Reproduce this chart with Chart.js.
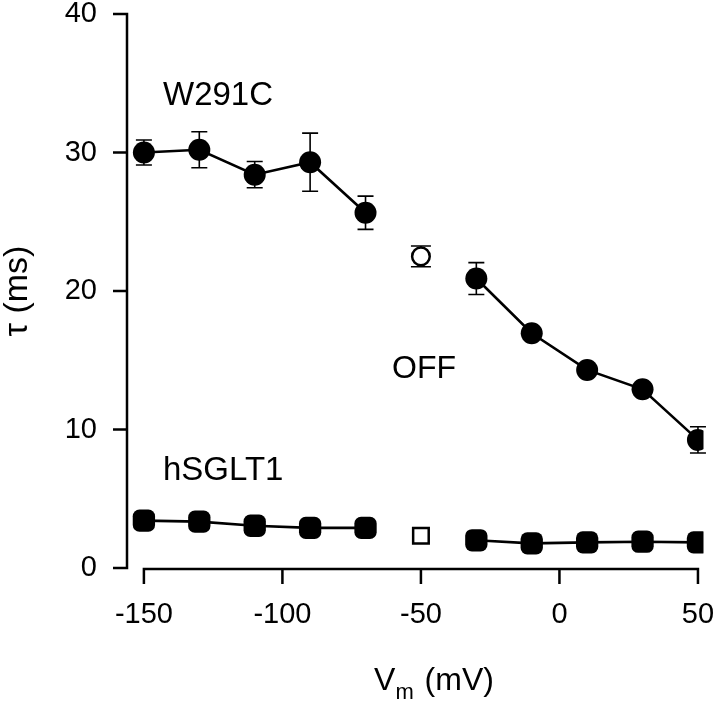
<!DOCTYPE html>
<html>
<head>
  <meta charset="UTF-8" />
  <title>tau vs Vm</title>
  <script src="https://cdn.jsdelivr.net/npm/chart.js"></script>
  <style>
    body {
      margin: 0;
      background-color: #fff;
    }
    #chartContainer {
      width: 717px;
      height: 701px;
    }
  </style>
</head>
<body>

  <div id="chartContainer">
    <canvas id="tauChart"></canvas>
  </div>

  <script>
    // voltages (mV)
    const voltages = [-150, -130, -110, -90, -70, -50, -30, -10, 10, 30, 50];
    // W291C tau (ms), -50 mV point is the open one
    const w291cTau = [30.0, 30.2, 28.4, 29.3, 25.65, null, 20.9, 16.95, 14.3, 12.9, 9.25];
    const w291cErr = [0.9, 1.3, 0.95, 2.1, 1.2, null, 1.15, 0, 0, 0, 0.95];
    // hSGLT1 tau (ms)
    const hsgltTau = [3.42, 3.35, 3.05, 2.9, 2.9, null, 2.0, 1.78, 1.85, 1.9, 1.85];

    // open symbols
    const openV = [-50];
    const openW291cTau = [22.5];
    const openW291cErr = [0.75];
    const openHsgltTau = [2.33];

    const xTicks = [-150, -100, -50, 0, 50];
    const yTicks = [0, 10, 20, 30, 40];

    const FONT = "'Liberation Sans', Arial, sans-serif";

    const toPoints = (xs, ys) => xs.map((x, i) => ({ x: x, y: ys[i] }));

    // axis lines, tick marks, error bars, text labels
    const decorPlugin = {
      id: 'decor',
      beforeDatasetsDraw(chart) {
        const ctx = chart.ctx;
        const xs = chart.scales.x;
        const ys = chart.scales.y;
        ctx.save();
        ctx.strokeStyle = '#000';
        ctx.lineWidth = 1.6;
        const bars = [
          [voltages, w291cTau, w291cErr, 8],
          [openV, openW291cTau, openW291cErr, 10]
        ];
        bars.forEach(([vx, vy, ve, cap]) => {
          vx.forEach((v, i) => {
            if (vy[i] == null || !ve[i]) return;
            const px = xs.getPixelForValue(v);
            const top = ys.getPixelForValue(vy[i] + ve[i]);
            const bot = ys.getPixelForValue(vy[i] - ve[i]);
            ctx.beginPath();
            ctx.moveTo(px, top); ctx.lineTo(px, bot);
            ctx.moveTo(px - cap, top); ctx.lineTo(px + cap, top);
            ctx.moveTo(px - cap, bot); ctx.lineTo(px + cap, bot);
            ctx.stroke();
          });
        });
        ctx.restore();
      },
      afterDraw(chart) {
        const ctx = chart.ctx;
        const xs = chart.scales.x;
        const ys = chart.scales.y;
        const area = chart.chartArea;
        ctx.save();
        ctx.strokeStyle = '#000';
        ctx.lineWidth = 2.5;
        ctx.lineCap = 'butt';

        // y axis
        const yTop = ys.getPixelForValue(40);
        const yBot = ys.getPixelForValue(0);
        ctx.beginPath();
        ctx.moveTo(area.left, yTop - 1.25);
        ctx.lineTo(area.left, yBot + 1.25);
        yTicks.forEach(t => {
          const py = ys.getPixelForValue(t);
          ctx.moveTo(area.left - 14, py);
          ctx.lineTo(area.left, py);
        });
        ctx.stroke();

        // x axis (only from -150 to 50)
        const axY = yBot + 1;
        const x0 = xs.getPixelForValue(-150);
        const x1 = xs.getPixelForValue(50);
        ctx.beginPath();
        ctx.moveTo(x0 - 1.25, axY);
        ctx.lineTo(x1 + 1.25, axY);
        xTicks.forEach(t => {
          const px = xs.getPixelForValue(t);
          ctx.moveTo(px, axY);
          ctx.lineTo(px, axY + 15);
        });
        ctx.stroke();

        // series labels
        ctx.fillStyle = '#000';
        ctx.textAlign = 'left';
        ctx.textBaseline = 'alphabetic';
        ctx.font = '33px ' + FONT;
        ctx.fillText('W291C', 163, 105);
        ctx.fillText('hSGLT1', 163, 480);
        ctx.font = '32px ' + FONT;
        ctx.fillText('OFF', 392, 378);

        // x axis title with subscript
        ctx.font = '32px ' + FONT;
        const vW = ctx.measureText('V').width;
        ctx.font = '22px ' + FONT;
        const mW = ctx.measureText('m').width;
        ctx.font = '32px ' + FONT;
        const restW = ctx.measureText(' (mV)').width;
        const total = vW + mW + restW;
        let tx = 433 - total / 2;
        const base = 690;
        ctx.fillText('V', tx, base);
        tx += vW;
        ctx.font = '22px ' + FONT;
        ctx.fillText('m', tx, base + 9);
        tx += mW + 2;
        ctx.font = '32px ' + FONT;
        ctx.fillText(' (mV)', tx, base);
        ctx.restore();
      }
    };

    const config = {
      type: 'line',
      data: {
        datasets: [
          {
            label: 'W291C',
            data: toPoints(voltages, w291cTau),
            borderColor: '#000',
            backgroundColor: '#000',
            borderWidth: 2.6,
            pointRadius: 11,
            pointBorderWidth: 0,
            pointStyle: 'circle',
            spanGaps: false,
            tension: 0
          },
          {
            label: 'W291C open',
            data: toPoints(openV, openW291cTau),
            showLine: false,
            borderColor: '#000',
            backgroundColor: '#fff',
            pointRadius: 8.8,
            pointBorderWidth: 2.5,
            pointStyle: 'circle'
          },
          {
            label: 'hSGLT1',
            data: toPoints(voltages, hsgltTau),
            borderColor: '#000',
            backgroundColor: '#000',
            borderWidth: 2.6,
            pointRadius: 13,
            pointBorderWidth: 0,
            pointStyle: 'rectRounded',
            spanGaps: false,
            tension: 0
          },
          {
            label: 'hSGLT1 open',
            data: toPoints(openV, openHsgltTau),
            showLine: false,
            borderColor: '#000',
            backgroundColor: '#fff',
            pointRadius: 11,
            pointBorderWidth: 2.5,
            pointStyle: 'rect'
          }
        ]
      },
      options: {
        responsive: true,
        maintainAspectRatio: false,
        animation: false,
        events: [],
        layout: {
          padding: { top: 14, right: 12, left: 0, bottom: 0 }
        },
        plugins: {
          legend: { display: false },
          tooltip: { enabled: false }
        },
        scales: {
          x: {
            type: 'linear',
            min: -156.1,
            max: 52,
            afterBuildTicks: (scale) => {
              scale.ticks = xTicks.map(v => ({ value: v }));
            },
            afterFit: (scale) => {
              scale.height = 133;
              scale.paddingLeft = 0;
              scale.paddingRight = 0;
            },
            grid: { display: false, drawTicks: false },
            border: { display: false },
            ticks: {
              color: '#000',
              font: { family: FONT, size: 29, lineHeight: 1 },
              padding: 32,
              maxRotation: 0,
              autoSkip: false
            }
          },
          y: {
            type: 'linear',
            min: 0,
            max: 40,
            afterBuildTicks: (scale) => {
              scale.ticks = yTicks.map(v => ({ value: v }));
            },
            afterFit: (scale) => {
              scale.width = 127;
              scale.paddingTop = 0;
              scale.paddingBottom = 0;
            },
            grid: { display: false, drawTicks: false },
            border: { display: false },
            ticks: {
              color: '#000',
              font: { family: FONT, size: 29, lineHeight: 1 },
              padding: 30
            },
            title: {
              display: true,
              text: 'τ (ms)',
              color: '#000',
              font: { family: FONT, size: 34, lineHeight: 1.05 },
              padding: 0
            }
          }
        }
      },
      plugins: [decorPlugin]
    };

    const tauChart = new Chart(document.getElementById('tauChart').getContext('2d'), config);
  </script>
</body>
</html>
